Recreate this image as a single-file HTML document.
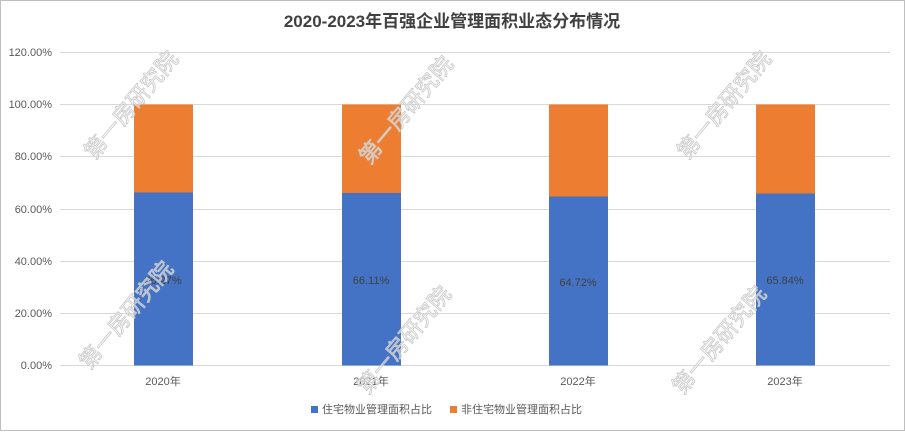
<!DOCTYPE html>
<html><head><meta charset="utf-8"><style>
body{margin:0;width:905px;height:431px;overflow:hidden;background:#fff;font-family:"Liberation Sans","Noto Sans CJK SC",sans-serif;}
</style></head><body>
<svg width="905" height="431" xmlns="http://www.w3.org/2000/svg" font-family="Liberation Sans, Noto Sans CJK SC, sans-serif">
<rect x="0.5" y="0.5" width="904" height="430" fill="#fff" stroke="#bfbfbf"/>
<text x="452" y="27" text-anchor="middle" font-size="17" font-weight="bold" fill="#404040">2020-2023年百强企业管理面积业态分布情况</text>
<g stroke="#d9d9d9" stroke-width="1">
<line x1="60" x2="890" y1="52.5" y2="52.5"/>
<line x1="60" x2="890" y1="104.5" y2="104.5"/>
<line x1="60" x2="890" y1="156.5" y2="156.5"/>
<line x1="60" x2="890" y1="209.5" y2="209.5"/>
<line x1="60" x2="890" y1="261.5" y2="261.5"/>
<line x1="60" x2="890" y1="313.5" y2="313.5"/>
<line x1="60" x2="890" y1="365.5" y2="365.5"/>
</g>
<g font-size="11" fill="#595959" text-anchor="end">
<text x="52" y="56">120.00%</text>
<text x="52" y="108">100.00%</text>
<text x="52" y="160">80.00%</text>
<text x="52" y="213">60.00%</text>
<text x="52" y="265">40.00%</text>
<text x="52" y="317">20.00%</text>
<text x="52" y="369">0.00%</text>
</g>
<g>
<rect x="134" y="104.5" width="59" height="88" fill="#ed7d31"/>
<rect x="134" y="192.5" width="59" height="173" fill="#4472c4"/>
<rect x="342" y="104.5" width="59" height="88.5" fill="#ed7d31"/>
<rect x="342" y="193" width="59" height="172.5" fill="#4472c4"/>
<rect x="549" y="104.5" width="59" height="92" fill="#ed7d31"/>
<rect x="549" y="196.5" width="59" height="169" fill="#4472c4"/>
<rect x="756" y="104.5" width="59" height="89" fill="#ed7d31"/>
<rect x="756" y="193.5" width="59" height="172" fill="#4472c4"/>
</g>
<g font-size="11" fill="#404040" text-anchor="middle">
<text x="163" y="284">66.27%</text>
<text x="371" y="284">66.11%</text>
<text x="578" y="286">64.72%</text>
<text x="785" y="284">65.84%</text>
</g>
<g font-size="11" fill="#595959" text-anchor="middle">
<text x="163" y="385">2020年</text>
<text x="371" y="385">2021年</text>
<text x="578" y="385">2022年</text>
<text x="785" y="385">2023年</text>
</g>
<g font-size="11" fill="#595959">
<rect x="311" y="406" width="7" height="7" fill="#4472c4"/>
<text x="322" y="413">住宅物业管理面积占比</text>
<rect x="450" y="406" width="7" height="7" fill="#ed7d31"/>
<text x="461" y="413">非住宅物业管理面积占比</text>
</g>
<g font-size="22" fill="#ffffff" fill-opacity="0.55" stroke="#c8c8c8" stroke-width="0.8" text-anchor="middle">
<text transform="translate(137,110) rotate(-50)">第一房研究院</text>
<text transform="translate(132,320) rotate(-50)">第一房研究院</text>
<text transform="translate(412,115) rotate(-50)">第一房研究院</text>
<text transform="translate(410,345) rotate(-50)">第一房研究院</text>
<text transform="translate(730,110) rotate(-50)">第一房研究院</text>
<text transform="translate(725,345) rotate(-50)">第一房研究院</text>
</g>
</svg>
</body></html>
